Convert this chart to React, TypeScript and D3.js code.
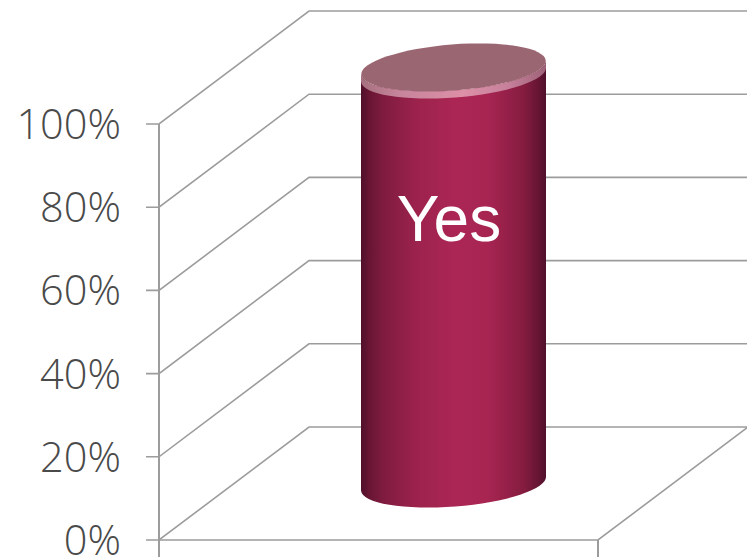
import React from "react";
import * as d3 from "d3";

const categories = ["Yes"];
const values = [100];
const tickValues = [0, 20, 40, 60, 80, 100];

const W = 747, H = 557;
const front = { left: 159, right: 598, bottom: 540, top: 124 };
const depth = { x: 150, y: -113 };
const gridColor = "#9c9c9c";

export default function App() {
  const y = d3.scaleLinear().domain([0, 100]).range([front.bottom, front.top]);
  const x = d3.scaleBand<string>().domain(categories).range([front.left, front.right]).paddingInner(0).paddingOuter(0);
  const line = d3.line();
  const barW = 185;
  return (
    <svg width={W} height={H} viewBox={`0 0 ${W} ${H}`} style={{ position: "fixed", left: 0, top: 0, display: "block", background: "#fff" }}>
      <defs>
        <linearGradient id="body" x1="0" x2="1" y1="0" y2="0">
          <stop offset="0" stopColor="#50102b" />
          <stop offset="0.04" stopColor="#661532" />
          <stop offset="0.12" stopColor="#7f1b3f" />
          <stop offset="0.3" stopColor="#9c224c" />
          <stop offset="0.5" stopColor="#ab2654" />
          <stop offset="0.68" stopColor="#a82552" />
          <stop offset="0.88" stopColor="#851c40" />
          <stop offset="0.96" stopColor="#651532" />
          <stop offset="1" stopColor="#50102b" />
        </linearGradient>
        <linearGradient id="rim" x1="0" x2="1" y1="0" y2="0">
          <stop offset="0" stopColor="#a5707f" />
          <stop offset="0.2" stopColor="#c6849a" />
          <stop offset="0.55" stopColor="#dd90a8" />
          <stop offset="0.8" stopColor="#c6809a" />
          <stop offset="1" stopColor="#9e6278" />
        </linearGradient>
      </defs>
      {tickValues.map((t) => {
        const yy = y(t);
        return (
          <g key={t}>
            <path d={line([[front.left - 13, yy], [front.left, yy], [front.left + depth.x, yy + depth.y], [W, yy + depth.y]])!} fill="none" stroke={gridColor} strokeWidth={1.6} />
            <text x={121} y={yy + 15} textAnchor="end" fontFamily="'Open Sans'" fontWeight={300} fontSize={41.5} fill="#4a4a4a">{t}%</text>
          </g>
        );
      })}
      <path d={line([[front.left, front.top], [front.left, H]])!} stroke={gridColor} strokeWidth={2} fill="none" />
      <path d={line([[front.left, front.bottom], [front.right, front.bottom], [front.right + depth.x, front.bottom + depth.y]])!} stroke={gridColor} strokeWidth={1.6} fill="none" />
      <path d={line([[front.right, front.bottom], [front.right, H]])!} stroke={gridColor} strokeWidth={2} fill="none" />
      {categories.map((c, i) => {
        const cx = x(c)! + x.bandwidth() / 2 + depth.x / 2;
        const y0 = y(0) + depth.y / 2;
        const y1 = y(values[i]) + depth.y / 2;
        const rx = barW / 2, ry = 23, rot = -4.4;
        const tilt = Math.tan((rot * Math.PI) / 180) * rx;
        const topL = y1 - tilt, topR = y1 + tilt;
        const botL = y0 - tilt, botR = y0 + tilt;
        const l = cx - rx, r = cx + rx;
        const side = `M${l},${topL} L${l},${botL} A${rx},${ry} ${rot} 0 0 ${r},${botR} L${r},${topR} A${rx},${ry} ${rot} 0 1 ${l},${topL} Z`;
        const rimH = 7;
        const rim = `M${l},${topL} L${l},${topL + rimH} A${rx},${ry} ${rot} 0 0 ${r},${topR + rimH} L${r},${topR} A${rx},${ry} ${rot} 0 1 ${l},${topL} Z`;
        return (
          <g key={c}>
            <path d={side} fill="url(#body)" />
            <path d={rim} fill="url(#rim)" />
            <ellipse cx={cx} cy={y1} rx={rx} ry={ry} transform={`rotate(${rot} ${cx} ${y1})`} fill="#9a6672" />
            <text x={449} y={241} textAnchor="middle" fontFamily="'Liberation Sans'" fontSize={64} fill="#fff">{c}</text>
          </g>
        );
      })}
    </svg>
  );
}
